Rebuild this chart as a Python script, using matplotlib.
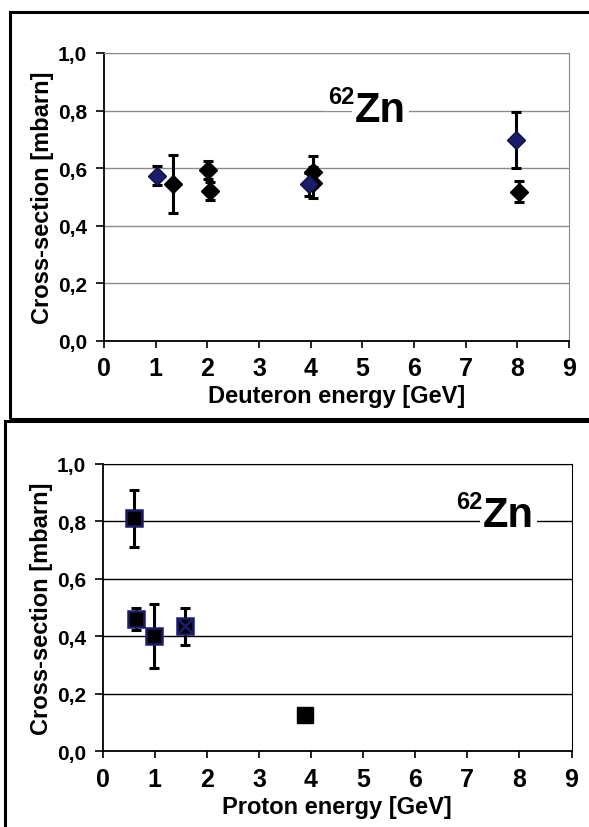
import matplotlib
matplotlib.use('Agg')
import matplotlib.pyplot as plt
from matplotlib.patches import Rectangle

# deuteron panel: navy diamonds and black diamonds
deut_navy_x = [1.03, 3.97, 7.97]
deut_navy_y = [0.574, 0.545, 0.699]
deut_navy_err = [0.032, 0.040, 0.097]

deut_black_x = [1.33, 2.02, 2.06, 4.05, 4.05, 8.03]
deut_black_y = [0.545, 0.593, 0.520, 0.588, 0.550, 0.518]
deut_black_err = [0.102, 0.032, 0.031, 0.053, 0.055, 0.037]

# proton panel: squares (last one has no error bar)
prot_x = [0.60, 0.64, 0.99, 1.58]
prot_y = [0.810, 0.460, 0.400, 0.435]
prot_err = [0.100, 0.037, 0.111, 0.065]
prot_noerr_x = [3.88]
prot_noerr_y = [0.127]

xticks = list(range(0, 10))
yticks = [0.0, 0.2, 0.4, 0.6, 0.8, 1.0]
ytick_labels = ['0,0', '0,2', '0,4', '0,6', '0,8', '1,0']

NAVY = '#1c1c6e'
FONT = 'Liberation Sans'

plt.rcParams['font.family'] = [FONT, 'DejaVu Sans']

fig = plt.figure(figsize=(5.89, 8.28), dpi=100)
W, H = 589.0, 828.0

# panel frames (they run off the right/bottom edge)
fig.patches.append(Rectangle((10 / W, 1 - 420 / H), 600 / W, 407 / H,
                             transform=fig.transFigure, fill=False,
                             edgecolor='black', linewidth=2.2, zorder=0))
fig.patches.append(Rectangle((5 / W, -0.05), 600 / W, 1 - 422 / H + 0.05,
                             transform=fig.transFigure, fill=True, facecolor='white',
                             edgecolor='black', linewidth=2.2, zorder=1))


def style_axes(ax, grid_color, xlabel):
    ax.set_xlim(0, 9)
    ax.set_ylim(0, 1.0)
    ax.set_xticks(xticks)
    ax.set_yticks(yticks)
    ax.set_yticklabels(ytick_labels)
    for lab in ax.get_xticklabels():
        lab.set_fontweight('bold')
        lab.set_fontsize(18)
    for lab in ax.get_yticklabels():
        lab.set_fontweight('bold')
        lab.set_fontsize(15)
    ax.tick_params(axis='x', direction='out', length=5, width=1.2, pad=6)
    ax.tick_params(axis='y', direction='out', length=6, width=1.2, pad=6)
    ax.yaxis.grid(True, color=grid_color, linewidth=1.0)
    ax.set_axisbelow(True)
    ax.spines['left'].set_linewidth(1.3)
    ax.spines['bottom'].set_linewidth(1.3)
    ax.spines['top'].set_color(grid_color)
    ax.spines['right'].set_color(grid_color)
    ax.set_ylabel('Cross-section [mbarn]', fontsize=17, fontweight='bold', labelpad=3)
    ax.set_xlabel(xlabel, fontsize=17, fontweight='bold', labelpad=3)


def zn_label(ax, x, y):
    ax.text(x, y, 'Zn', fontsize=30, fontweight='bold', ha='left', va='baseline',
            zorder=5, bbox=dict(facecolor='white', edgecolor='none', pad=2))
    ax.annotate('62', xy=(x, y), xytext=(0, 12.5), textcoords='offset points',
                fontsize=17, fontweight='bold', ha='right', va='baseline', zorder=5,
                bbox=dict(facecolor='white', edgecolor='none', pad=2))


errkw = dict(fmt='none', ecolor='black', elinewidth=2.2, capsize=3.8, capthick=2.2, zorder=3)

# --- top: deuterons ---
ax1 = fig.add_axes([104 / W, 1 - 342 / H, 465 / W, 288 / H])
style_axes(ax1, '#8a8a8a', 'Deuteron energy [GeV]')
ax1.errorbar(deut_black_x, deut_black_y, yerr=deut_black_err, **errkw)
ax1.errorbar(deut_navy_x, deut_navy_y, yerr=deut_navy_err, **errkw)
ax1.plot(deut_black_x, deut_black_y, 'D', ms=9, color='black', zorder=4)
ax1.plot(deut_navy_x, deut_navy_y, 'D', ms=9, color=NAVY, mec='#10103a', zorder=4)
zn_label(ax1, 4.85, 0.765)

# --- bottom: protons ---
ax2 = fig.add_axes([102.7 / W, 1 - 752.3 / H, 468.8 / W, 287.5 / H])
ax2.set_zorder(2)
style_axes(ax2, 'black', 'Proton energy [GeV]')
ax2.errorbar(prot_x, prot_y, yerr=prot_err, **errkw)
ax2.plot(prot_x, prot_y, 's', ms=12, color='black', mec=NAVY, mew=1.8, zorder=4)
ax2.plot(prot_x[-1:], prot_y[-1:], 'x', ms=10, color=NAVY, mew=1.8, zorder=5)
ax2.plot(prot_noerr_x, prot_noerr_y, 's', ms=12, color='black', zorder=4)
zn_label(ax2, 7.3, 0.785)

fig.savefig('out.png', dpi=100)
